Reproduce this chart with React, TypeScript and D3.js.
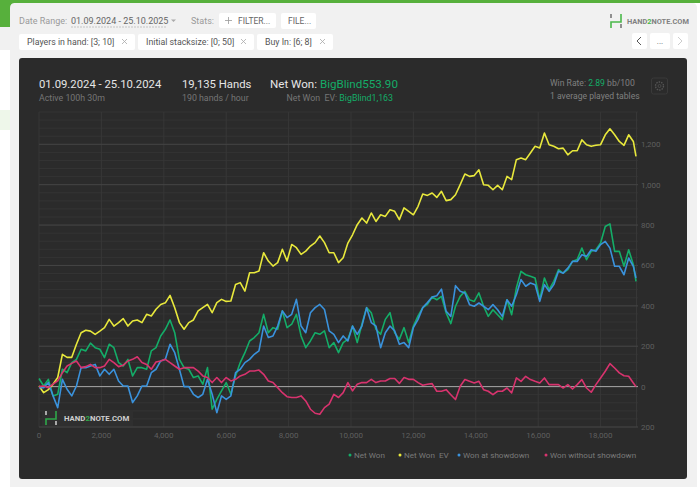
import React from "react";
import * as d3 from "d3";

const HANDS_TOTAL = 19135;
const SAMPLE_STEP = 150;
const X_TICKS = [0, 2000, 4000, 6000, 8000, 10000, 12000, 14000, 16000, 18000];
const Y_TICKS = [-200, 0, 200, 400, 600, 800, 1000, 1200];
const Y_MINOR = d3.range(-200, 1361, 40);

const netWon = [40,3,36,-46,-38,86,69,119,135,185,177,215,193,185,144,210,193,119,102,135,53,94,94,86,177,193,251,284,330,267,135,94,86,45,53,12,94,-112,-63,-21,20,-38,53,119,168,226,243,267,358,267,292,284,375,292,309,358,251,193,226,267,259,276,193,218,168,218,234,300,218,309,391,366,284,259,333,366,267,234,292,218,300,350,391,407,444,430,447,365,312,398,447,472,430,422,464,398,348,381,356,332,430,356,488,571,554,546,538,430,538,480,521,579,562,579,620,629,686,629,670,678,711,793,806,670,670,596,678,604,521];
const netWonEv = [3,-30,-15,12,45,160,145,145,210,267,279,275,259,275,292,333,300,317,337,300,325,330,317,358,350,383,407,415,452,391,317,284,317,330,375,391,407,366,416,432,422,424,506,515,473,564,564,572,663,622,597,614,680,622,704,688,655,671,696,713,746,713,663,663,614,638,711,752,802,835,810,860,818,851,843,876,868,827,885,868,851,893,954,947,959,937,967,921,926,950,1000,1053,1041,1045,1074,1000,997,975,997,975,1041,1025,1124,1132,1124,1157,1190,1182,1256,1198,1190,1178,1181,1148,1168,1168,1222,1198,1190,1195,1198,1247,1277,1247,1214,1195,1247,1214,1140];
const wonAtShowdown = [-5,-5,20,-46,-104,36,-13,-46,3,94,94,102,110,53,86,61,86,28,3,3,-79,-46,3,3,69,86,127,135,210,168,86,0,0,-38,-54,-38,36,-38,-129,-46,-63,-46,69,86,119,135,160,177,300,243,251,300,375,342,358,432,300,267,366,391,407,382,276,259,218,251,226,300,259,300,391,317,300,193,267,300,276,210,218,193,292,333,391,416,444,450,483,373,348,500,472,464,406,398,414,398,381,406,381,348,430,398,455,530,497,513,505,422,505,472,505,571,562,587,620,620,653,645,678,670,703,719,686,596,596,554,637,596,538];
const wonWithoutShowdown = [0,3,-5,12,28,69,102,115,127,94,99,110,94,94,102,135,119,99,106,127,135,148,119,110,86,122,127,135,119,102,86,94,94,94,77,53,45,20,45,20,45,28,36,53,61,77,77,82,61,28,20,-5,-30,-50,-54,-54,-46,-71,-112,-132,-137,-104,-87,-38,-54,-30,20,-21,12,20,20,36,20,28,28,40,40,16,45,36,36,20,7,12,15,-23,-23,-15,-40,-64,2,35,26,18,26,-15,-23,-40,-23,-23,-7,-31,43,26,51,35,26,18,43,10,10,10,-7,10,-12,10,35,-7,-28,10,43,76,114,92,68,54,51,18,0];

const SERIES_NAMES = ["Net Won", "Net Won  EV", "Won at showdown", "Won without showdown"];
const SERIES_COLORS = ["#14ad68", "#e8e83c", "#3a92dc", "#d8336e"];
const SERIES_VALUES = [netWon, netWonEv, wonAtShowdown, wonWithoutShowdown];
const LEGEND_X = [350, 400, 459, 546];

const CHIPS = [
  { label: "Players in hand: [3; 10]", x: 19, w: 116 },
  { label: "Initial stacksize: [0; 50]", x: 138, w: 116 },
  { label: "Buy In: [6; 8]", x: 257, w: 76 },
];

const FONT = "Roboto, sans-serif";

const x = d3.scaleLinear().domain([0, HANDS_TOTAL]).range([39, 636]);
const y = d3.scaleLinear().domain([-200, 1360]).range([427, 112]);

const handsAxis = [...d3.range(0, HANDS_TOTAL, SAMPLE_STEP), HANDS_TOTAL];
const fmt = d3.format(",");

function Logo({ tx, ty, bar, green }: { tx: number; ty: number; bar: string; green: string }) {
  return (
    <g transform={`translate(${tx},${ty})`} fill="none">
      <line x1={1} y1={0} x2={1} y2={4} stroke={bar} strokeWidth={1.4} />
      <line x1={11} y1={10} x2={11} y2={14} stroke={bar} strokeWidth={1.4} />
      <path d="M1,14V8H11V0" stroke={green} strokeWidth={1.6} />
    </g>
  );
}

export default function App() {
  const line = d3
    .line<number>()
    .x((_, i) => x(handsAxis[i]))
    .y((d) => y(d));

  return (
    <svg
      width={700}
      height={487}
      viewBox="0 0 700 487"
      style={{ position: "absolute", left: 0, top: 0, display: "block" }}
      fontFamily={FONT}
    >
      <rect width={700} height={487} fill="#ffffff" />
      <rect width={700} height={3} fill="#57b03c" />
      <rect x={0} y={0} width={14} height={27} fill="#57b03c" />
      <rect x={0} y={27} width={14} height={23} fill="#f1f1f1" />
      <rect x={0} y={110} width={14} height={20} fill="#eef7ea" />
      <path d="M10,487V8Q10,3 15,3H692Q697,3 697,8V487Z" fill="#f1f1f1" />

      <text x={19} y={24} fontSize={9} fill="#9a9a9a">Date Range:</text>
      <text x={71} y={24} fontSize={9} fill="#666">01.09.2024 - 25.10.2025</text>
      <line x1={71} y1={27} x2={166} y2={27} stroke="#aaa" strokeWidth={0.6} strokeDasharray="2 1" />
      <path d="M171,19.5h5l-2.5,2.5z" fill="#aaa" />
      <text x={191} y={24} fontSize={9} fill="#9a9a9a">Stats:</text>
      <rect x={219} y={13} width={57} height={15} rx={2} fill="#fff" />
      <path d="M225,20.5h7M228.500,17v7" stroke="#999" strokeWidth={0.8} />
      <text x={238} y={24} fontSize={8.5} fill="#666">FILTER...</text>
      <rect x={281} y={13} width={35} height={16} rx={2} fill="#fff" />
      <text x={288} y={24} fontSize={8.5} fill="#666">FILE...</text>

      {CHIPS.map((c) => (
        <g key={c.label}>
          <rect x={c.x} y={34} width={c.w} height={16} rx={2} fill="#fff" />
          <text x={c.x + 8} y={45} fontSize={8.8} fill="#555">{c.label}</text>
          <path d={`M${c.x + c.w - 13},39l5,5m0,-5l-5,5`} stroke="#aaa" strokeWidth={0.8} />
        </g>
      ))}

      <Logo tx={610} ty={14} bar="#666" green="#4ab84a" />
      <text x={627} y={24} fontSize={7.4} fontWeight={700} fill="#808080">
        HAND<tspan fill="#4ab84a">2</tspan>NOTE.COM
      </text>

      <rect x={632} y={33} width={15} height={16} rx={2} fill="#fff" />
      <path d="M641,37l-4,4l4,4" fill="none" stroke="#555" strokeWidth={1} />
      <rect x={650} y={33} width={20} height={16} rx={2} fill="#fff" />
      <text x={660} y={44} fontSize={8} fill="#666" textAnchor="middle">...</text>
      <rect x={673} y={33} width={15} height={16} rx={2} fill="#fff" />
      <path d="M678,37l4,4l-4,4" fill="none" stroke="#ccc" strokeWidth={1} />

      <rect x={19} y={58} width={668} height={421} rx={3} fill="#2b2b2b" />

      <text x={39} y={88} fontSize={11.3} fill="#e6e6e6">01.09.2024 - 25.10.2024</text>
      <text x={39} y={101} fontSize={8.8} fill="#767676">Active 100h 30m</text>
      <text x={182} y={88} fontSize={11.3} fill="#e6e6e6">19,135 Hands</text>
      <text x={182} y={101} fontSize={8.8} fill="#767676">190 hands / hour</text>
      <text x={270} y={88} fontSize={11.6} fill="#e6e6e6">
        Net Won: <tspan fill="#14ad68">BigBlind553.90</tspan>
      </text>
      <text x={393} y={101} fontSize={8.8} fill="#767676" textAnchor="end" xmlSpace="preserve">
        Net Won  EV: <tspan fill="#14ad68">BigBlind1,163</tspan>
      </text>
      <text x={550} y={86} fontSize={8.6} fill="#808080">
        Win Rate: <tspan fill="#14ad68">2.89</tspan> bb/100
      </text>
      <text x={550} y={99} fontSize={8.6} fill="#808080">1 average played tables</text>
      <rect x={651.500} y={78} width={16} height={16} rx={2} fill="none" stroke="#3a3a3a" />
      <circle cx={659.500} cy={86} r={4} fill="none" stroke="#555" strokeWidth={1.4} strokeDasharray="1.5 1" />
      <circle cx={659.500} cy={86} r={1.5} fill="none" stroke="#555" strokeWidth={0.7} />

      {Y_MINOR.map((v) => (
        <line key={v} x1={39} x2={638} y1={y(v)} y2={y(v)} stroke="#343434" strokeWidth={1} />
      ))}
      {X_TICKS.map((v) => (
        <line key={v} x1={x(v)} x2={x(v)} y1={112} y2={427} stroke="#373737" strokeWidth={1} />
      ))}
      <line x1={636.500} x2={636.500} y1={112} y2={427} stroke="#373737" />
      {Y_TICKS.map((v) => (
        <line
          key={v}
          x1={39}
          x2={638}
          y1={y(v)}
          y2={y(v)}
          stroke={v === 0 ? "#a8a8a8" : "#444444"}
          strokeWidth={1}
        />
      ))}

      {X_TICKS.map((v) => (
        <text key={v} x={x(v)} y={438} fontSize={8} fill="#5f5f5f" textAnchor="middle">
          {fmt(v)}
        </text>
      ))}
      {Y_TICKS.map((v) => (
        <text key={v} x={641} y={y(v) + 3} fontSize={8} fill="#5f5f5f">
          {fmt(Math.abs(v))}
        </text>
      ))}

      {SERIES_VALUES.map((vals, i) => (
        <path
          key={SERIES_NAMES[i]}
          d={line(vals) ?? ""}
          fill="none"
          stroke={SERIES_COLORS[i]}
          strokeWidth={1.6}
          strokeLinejoin="round"
        />
      ))}

      <rect x={42} y={410} width={91} height={16} fill="#2f2f2f" />
      <Logo tx={45} ty={411} bar="#ddd" green="#2fa84a" />
      <text x={64} y={421} fontSize={7.8} fontWeight={700} fill="#cfcfcf">
        HAND<tspan fill="#2fa84a">2</tspan>NOTE.COM
      </text>

      {SERIES_NAMES.map((name, i) => (
        <g key={name}>
          <circle cx={LEGEND_X[i]} cy={455} r={1.5} fill={SERIES_COLORS[i]} />
          <text x={LEGEND_X[i] + 4} y={458} fontSize={8.1} fill="#7a7a7a" xmlSpace="preserve">
            {name}
          </text>
        </g>
      ))}
    </svg>
  );
}
